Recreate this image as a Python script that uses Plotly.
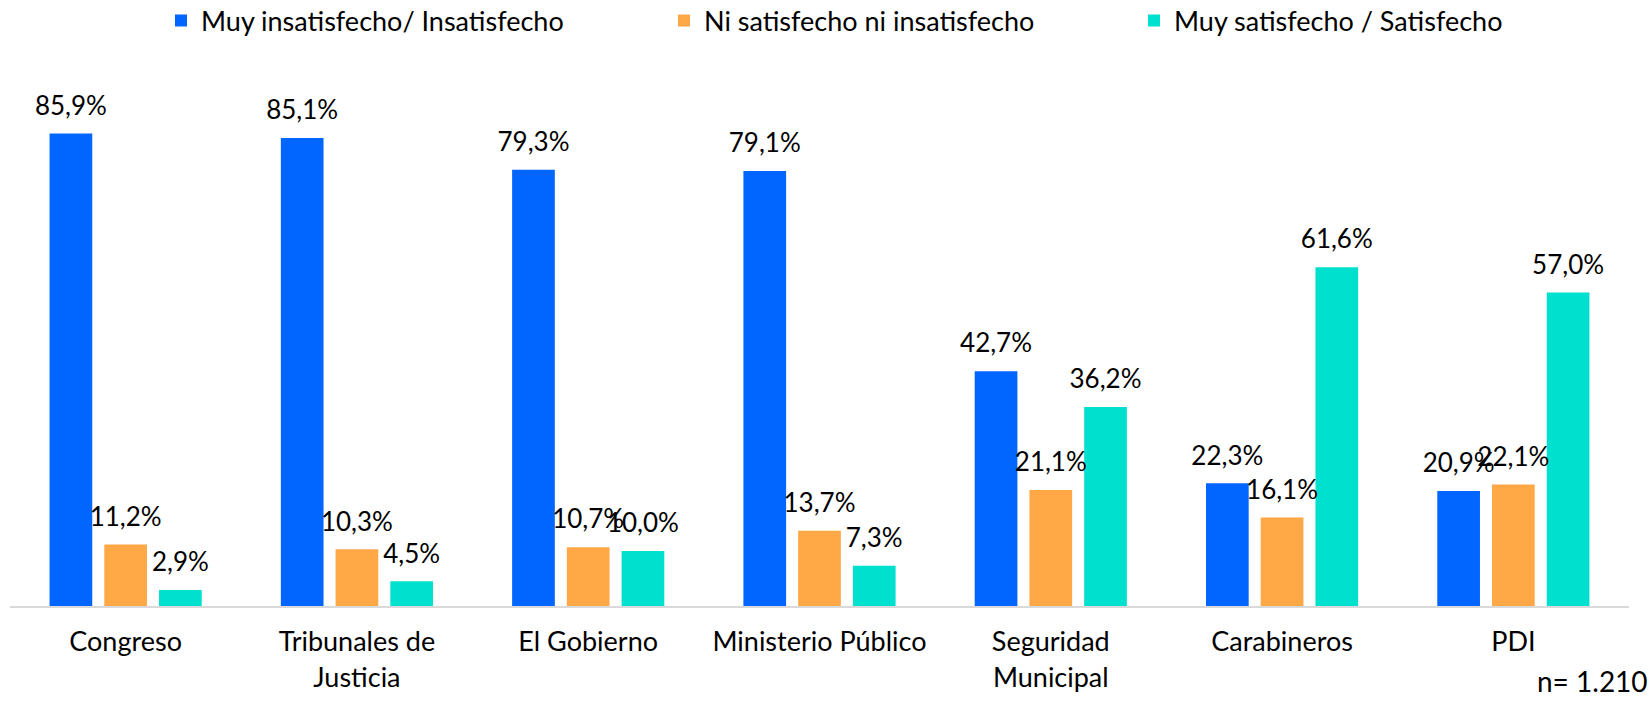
import plotly.graph_objects as go

categories = ["Congreso", "Tribunales de<br>Justicia", "El Gobierno", "Ministerio Público",
              "Seguridad<br>Municipal", "Carabineros", "PDI"]
insatisfecho = [85.9, 85.1, 79.3, 79.1, 42.7, 22.3, 20.9]
ni_ni = [11.2, 10.3, 10.7, 13.7, 21.1, 16.1, 22.1]
satisfecho = [2.9, 4.5, 10.0, 7.3, 36.2, 61.6, 57.0]
series_names = ["Muy insatisfecho/ Insatisfecho", "Ni satisfecho ni insatisfecho",
                "Muy satisfecho / Satisfecho"]
colors = ["#0066FF", "#FFA845", "#00E0CE"]
legend_x = [161, 664, 1134]  # legend positions in px

def fmt(v):
    return f"{v:.1f}".replace(".", ",") + "%"

fig = go.Figure()
legend_ids = ["legend", "legend2", "legend3"]
series = [insatisfecho, ni_ni, satisfecho]
for i, (name, vals, col, lid) in enumerate(zip(series_names, series, colors, legend_ids)):
    fig.add_trace(go.Bar(
        x=categories, y=vals, name=name, marker_color=col, marker_line_width=0,
        legend=lid, offsetgroup=str(i), alignmentgroup="a",
    ))
for i, vals in enumerate(series):
    fig.add_trace(go.Scatter(
        x=categories, y=vals, mode="markers+text", text=[fmt(v) for v in vals],
        textposition="top center", cliponaxis=False, showlegend=False, hoverinfo="skip",
        marker=dict(size=18, color="rgba(0,0,0,0)"), offsetgroup=str(i), alignmentgroup="a",
        textfont=dict(size=26, color="#000000", family="Lato"),
    ))

W, H = 1652, 704
L, R, T, B = 10, 23, 111, 98
pw, ph = W - L - R, H - T - B
legend_common = dict(orientation="h", xref="container", yref="container", y=1 - 21 / H,
                     yanchor="middle", xanchor="left", font=dict(size=27, family="Lato", color="#000000"),
                     bgcolor="rgba(0,0,0,0)")
fig.update_layout(
    width=W, height=H,
    paper_bgcolor="white", plot_bgcolor="white",
    font=dict(family="Lato", size=27, color="#000000"),
    barmode="group", bargap=0.29, bargroupgap=0.22,
    scattermode="group", scattergap=0.29,
    margin=dict(l=L, r=R, t=T, b=B),
    showlegend=True,
    legend=dict(x=legend_x[0] / W, **legend_common),
    legend2=dict(x=legend_x[1] / W, **legend_common),
    legend3=dict(x=legend_x[2] / W, **legend_common),
    xaxis=dict(showline=True, linecolor="#D9D9D9", linewidth=2, ticks="",
               tickfont=dict(size=27), showgrid=False, ticklabelstandoff=11),
    yaxis=dict(range=[0, 90], visible=False, showgrid=False, zeroline=False),
)
fig.add_annotation(text="n= 1.210", xref="paper", yref="paper",
                   x=(1650 - L) / pw, y=(H - B - 681) / ph, showarrow=False,
                   xanchor="right", yanchor="middle",
                   font=dict(size=28, color="#000000", family="Lato"))

fig.write_html("out.html", config={"displayModeBar": False},
               post_script="document.body.style.margin='0';")
